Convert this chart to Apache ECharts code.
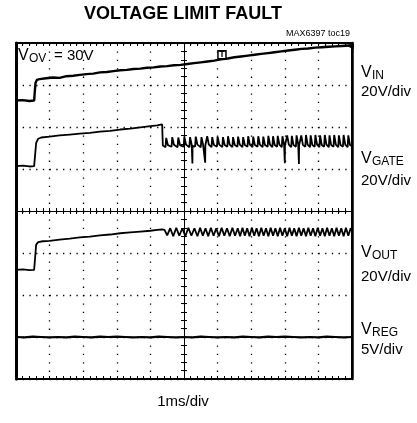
<!DOCTYPE html>
<html>
<head>
<meta charset="utf-8">
<script src="https://cdn.jsdelivr.net/npm/echarts@6/dist/echarts.min.js"></script>
<style>
html,body{margin:0;padding:0;background:#fff;}
#chart{width:417px;height:423px;}
</style>
</head>
<body>
<div id="chart"></div>
<script>
// Time axis: ms relative to screen centre (1 ms/div); vertical: divisions from screen centre
const timeTicks = [-5,-4,-3,-2,-1,0,1,2,3,4,5];
const divTicks = [-4,-3,-2,-1,0,1,2,3,4];

const vinTrace = [[-5.00,2.63],[-4.80,2.64],[-4.60,2.62],[-4.46,2.63],[-4.44,2.85],[-4.42,3.05],[-4.38,3.12],[-4.30,3.14],[-4.10,3.16],[-3.90,3.18],[-3.70,3.17],[-3.50,3.21],[-3.30,3.22],[-3.10,3.24],[-2.90,3.26],[-2.70,3.27],[-2.50,3.30],[-2.30,3.31],[-2.10,3.33],[-1.90,3.35],[-1.70,3.36],[-1.50,3.38],[-1.30,3.39],[-1.10,3.41],[-0.90,3.42],[-0.70,3.44],[-0.50,3.45],[-0.30,3.47],[-0.10,3.48],[0.10,3.50],[0.30,3.52],[0.50,3.54],[0.70,3.56],[0.90,3.58],[1.10,3.61],[1.30,3.63],[1.50,3.66],[1.70,3.68],[1.90,3.70],[2.10,3.72],[2.30,3.74],[2.50,3.76],[2.70,3.78],[2.90,3.80],[3.10,3.82],[3.30,3.84],[3.50,3.86],[3.70,3.87],[3.90,3.89],[4.10,3.90],[4.30,3.91],[4.50,3.92],[4.70,3.93],[4.90,3.94],[5.00,3.94]];

const gateTrace = [[-5.00,1.07],[-4.80,1.08],[-4.60,1.06],[-4.46,1.07],[-4.43,1.35],[-4.40,1.62],[-4.34,1.72],[-4.25,1.75],[-4.00,1.77],[-3.70,1.80],[-3.40,1.82],[-3.10,1.84],[-2.80,1.86],[-2.50,1.89],[-2.20,1.91],[-1.90,1.94],[-1.60,1.96],[-1.30,1.99],[-1.00,2.02],[-0.80,2.04],[-0.65,2.06],[-0.63,1.56],
[-0.55,1.52],[-0.53,1.74],[-0.48,1.57],
[-0.37,1.53],[-0.35,1.76],[-0.30,1.58],
[-0.19,1.52],[-0.17,1.75],[-0.12,1.57],
[-0.01,1.53],[0.01,1.77],[0.06,1.58],
[0.16,1.52],[0.18,1.76],[0.23,1.57],
[0.245,1.56],[0.25,1.13],[0.255,1.55],
[0.33,1.53],[0.35,1.77],[0.40,1.58],
[0.50,1.52],[0.52,1.76],[0.57,1.57],
[0.625,1.56],[0.63,1.15],[0.635,1.56],
[0.67,1.53],[0.69,1.78],[0.74,1.58],
[0.82,1.52],[0.84,1.76],[0.89,1.57],
[0.98,1.53],[1.00,1.77],[1.05,1.58],
[1.14,1.52],[1.16,1.76],[1.21,1.57],
[1.29,1.53],[1.31,1.78],[1.36,1.58],
[1.44,1.52],[1.46,1.76],[1.51,1.57],
[1.59,1.53],[1.61,1.77],[1.66,1.58],
[1.74,1.52],[1.76,1.76],[1.81,1.57],
[1.89,1.53],[1.91,1.78],[1.96,1.58],
[2.04,1.52],[2.06,1.77],[2.11,1.57],
[2.19,1.53],[2.21,1.78],[2.26,1.58],
[2.34,1.52],[2.36,1.77],[2.41,1.57],
[2.49,1.53],[2.51,1.79],[2.56,1.58],
[2.63,1.52],[2.65,1.78],[2.70,1.57],
[2.77,1.53],[2.79,1.79],[2.84,1.58],
[2.91,1.52],[2.93,1.78],[2.98,1.57],
[2.995,1.56],[3.00,1.14],[3.005,1.56],
[3.05,1.53],[3.07,1.80],[3.12,1.58],
[3.19,1.52],[3.21,1.79],[3.26,1.57],
[3.33,1.53],[3.35,1.80],[3.40,1.58],
[3.415,1.57],[3.42,1.12],[3.425,1.56],
[3.47,1.52],[3.49,1.80],[3.54,1.57],
[3.61,1.53],[3.63,1.81],[3.68,1.58],
[3.75,1.52],[3.77,1.80],[3.82,1.57],
[3.89,1.53],[3.91,1.81],[3.96,1.58],
[4.03,1.52],[4.05,1.80],[4.10,1.57],
[4.17,1.53],[4.19,1.81],[4.24,1.58],
[4.31,1.52],[4.33,1.80],[4.38,1.57],
[4.45,1.53],[4.47,1.81],[4.52,1.58],
[4.59,1.52],[4.61,1.80],[4.66,1.57],
[4.73,1.53],[4.75,1.81],[4.80,1.58],
[4.87,1.52],[4.89,1.80],[4.94,1.57],[5.00,1.54]];

const outTrace = [[-5.00,-1.40],[-4.80,-1.39],[-4.60,-1.41],[-4.46,-1.40],[-4.43,-1.10],[-4.40,-0.80],[-4.34,-0.74],[-4.20,-0.72],[-4.00,-0.71],[-3.70,-0.68],[-3.40,-0.66],[-3.10,-0.63],[-2.80,-0.61],[-2.50,-0.58],[-2.20,-0.56],[-1.90,-0.53],[-1.60,-0.51],[-1.30,-0.49],[-1.00,-0.47],[-0.80,-0.45],[-0.65,-0.44],
[-0.58,-0.45],[-0.50,-0.58],[-0.41,-0.41],[-0.32,-0.60],[-0.23,-0.40],[-0.14,-0.59],[-0.05,-0.41],[0.04,-0.60],[0.13,-0.40],[0.22,-0.59],[0.31,-0.41],[0.40,-0.60],[0.48,-0.40],[0.56,-0.59],[0.64,-0.41],[0.72,-0.60],[0.80,-0.40],[0.88,-0.59],[0.96,-0.41],[1.04,-0.60],[1.12,-0.40],[1.20,-0.59],[1.28,-0.41],[1.36,-0.60],[1.44,-0.40],[1.52,-0.59],[1.60,-0.41],[1.67,-0.60],[1.74,-0.40],[1.81,-0.59],[1.88,-0.41],[1.95,-0.60],[2.02,-0.40],[2.09,-0.59],[2.16,-0.41],[2.23,-0.60],[2.30,-0.40],[2.37,-0.59],[2.44,-0.41],[2.51,-0.60],[2.58,-0.40],[2.65,-0.59],[2.72,-0.41],[2.79,-0.60],[2.86,-0.40],[2.93,-0.59],[3.00,-0.41],[3.07,-0.60],[3.14,-0.40],[3.21,-0.59],[3.28,-0.41],[3.35,-0.60],[3.42,-0.40],[3.49,-0.59],[3.56,-0.41],[3.63,-0.60],[3.70,-0.40],[3.77,-0.59],[3.84,-0.41],[3.91,-0.60],[3.98,-0.40],[4.05,-0.59],[4.12,-0.41],[4.19,-0.60],[4.26,-0.40],[4.33,-0.59],[4.40,-0.41],[4.47,-0.60],[4.54,-0.40],[4.61,-0.59],[4.68,-0.41],[4.75,-0.60],[4.82,-0.40],[4.89,-0.59],[4.96,-0.41],[5.00,-0.48]];

const regTrace = [[-5.00,-3.00],[-4.75,-3.01],[-4.50,-2.99],[-4.25,-3.00],[-4.00,-3.01],[-3.75,-3.00],[-3.50,-3.01],[-3.25,-2.99],[-3.00,-3.00],[-2.75,-3.01],[-2.50,-2.99],[-2.25,-3.00],[-2.00,-2.99],[-1.75,-3.00],[-1.50,-3.01],[-1.25,-3.00],[-1.00,-3.01],[-0.75,-2.99],[-0.50,-3.00],[-0.25,-3.01],[0.00,-3.00],[0.25,-3.01],[0.50,-2.99],[0.75,-3.00],[1.00,-3.01],[1.25,-3.00],[1.50,-3.01],[1.75,-2.99],[2.00,-3.00],[2.25,-3.01],[2.50,-2.99],[2.75,-3.00],[3.00,-2.99],[3.25,-3.00],[3.50,-3.01],[3.75,-3.00],[4.00,-3.01],[4.25,-2.99],[4.50,-3.00],[4.75,-3.01],[5.00,-3.00]];

const triggerPoint = [1.13, 3.72];
const levelPoint = [4.95, 3.93];

const FONT = "'Liberation Sans', Arial, sans-serif";
const BLACK = '#000';

const chart = echarts.init(document.getElementById('chart'), null, {renderer:'canvas'});

function traceSeries(data, width, extra) {
  return Object.assign({
    type:'line', data:data, showSymbol:false, symbol:'none', silent:true,
    xAxisIndex:0, yAxisIndex:0, animation:false,
    lineStyle:{color:BLACK, width:width}
  }, extra || {});
}

const hidden = {show:false};
function xAx(extra) {
  return Object.assign({type:'value', min:timeTicks[0], max:timeTicks[timeTicks.length-1], interval:1,
    axisLabel:hidden, splitLine:hidden}, extra);
}
function yAx(extra) {
  return Object.assign({type:'value', min:divTicks[0], max:divTicks[divTicks.length-1], interval:1,
    axisLabel:hidden, splitLine:hidden}, extra);
}
const tickStyle = {color:BLACK, width:1};
const HALF = 168; // half of plot box (px)

const option = {
  backgroundColor:'#fff',
  animation:false,
  grid:{left:16, right:65, top:43, bottom:44, show:true, borderColor:BLACK, borderWidth:2, backgroundColor:'transparent'},
  xAxis:[
    // dotted verticals + centre horizontal line with upward ticks
    xAx({position:'bottom', offset:-HALF, axisLine:{show:true, onZero:false, lineStyle:{color:BLACK,width:1}},
         axisTick:{show:true, inside:true, length:3, lineStyle:tickStyle},
         minorTick:{show:true, splitNumber:5, length:3, lineStyle:tickStyle},
         splitLine:{show:true, lineStyle:{color:BLACK, width:1.3, type:[1.3, 7.1]}}}),
    // centre horizontal line downward ticks
    xAx({position:'bottom', offset:-HALF, axisLine:{show:false, onZero:false},
         axisTick:{show:true, inside:false, length:3, lineStyle:tickStyle},
         minorTick:{show:true, splitNumber:5, length:3, lineStyle:tickStyle}}),
    xAx({position:'bottom', axisLine:{show:false, onZero:false},
         axisTick:{show:true, inside:true, length:3, lineStyle:tickStyle},
         minorTick:{show:true, splitNumber:5, length:3, lineStyle:tickStyle}}),
    xAx({position:'top', axisLine:{show:false, onZero:false},
         axisTick:{show:true, inside:true, length:3, lineStyle:tickStyle},
         minorTick:{show:true, splitNumber:5, length:3, lineStyle:tickStyle}})
  ],
  yAxis:[
    yAx({position:'left', offset:-HALF, axisLine:{show:true, onZero:false, lineStyle:{color:BLACK,width:1}},
         axisTick:{show:true, inside:true, length:3, lineStyle:tickStyle},
         minorTick:{show:true, splitNumber:5, length:3, lineStyle:tickStyle},
         splitLine:{show:true, lineStyle:{color:BLACK, width:1.3, type:[1.3, 5.42]}}}),
    yAx({position:'left', offset:-HALF, axisLine:{show:false, onZero:false},
         axisTick:{show:true, inside:false, length:3, lineStyle:tickStyle},
         minorTick:{show:true, splitNumber:5, length:3, lineStyle:tickStyle}}),
    yAx({position:'left', axisLine:{show:true, onZero:false, lineStyle:{color:BLACK,width:3}},
         axisTick:hidden}),
    yAx({position:'right', axisLine:{show:true, onZero:false, lineStyle:{color:BLACK,width:2.5}},
         axisTick:hidden})
  ],
  series:[
    traceSeries(vinTrace, 2.4, {
      markPoint:{silent:true, animation:false, data:[
        {coord:triggerPoint, symbol:'rect', symbolSize:[8,8], itemStyle:{color:'#fff', borderColor:BLACK, borderWidth:1.5},
         label:{show:true, formatter:'T', color:BLACK, fontSize:9, fontWeight:'bold', fontFamily:FONT, position:'inside'}},
        {coord:levelPoint, symbol:'triangle', symbolSize:[7,7], symbolRotate:90, itemStyle:{color:BLACK}, label:{show:false}}
      ]}
    }),
    traceSeries(gateTrace, 1.8),
    traceSeries(outTrace, 1.8),
    traceSeries(regTrace, 2.2)
  ],
  graphic:[
    {type:'text', x:183, y:14, style:{text:'VOLTAGE LIMIT FAULT', font:'bold 18px '+FONT, fill:BLACK, textAlign:'center', textVerticalAlign:'middle'}},
    {type:'text', x:350, y:34, style:{text:'MAX6397 toc19', font:'9px '+FONT, fill:BLACK, textAlign:'right', textVerticalAlign:'middle'}},
    {type:'text', x:18, y:56, style:{text:'V', font:'16px '+FONT, fill:BLACK, textAlign:'left', textVerticalAlign:'middle'}},
    {type:'text', x:29, y:59, style:{text:'OV', font:'12px '+FONT, fill:BLACK, textAlign:'left', textVerticalAlign:'middle'}},
    {type:'text', x:54, y:56, style:{text:'= 30V', font:'15px '+FONT, fill:BLACK, textAlign:'left', textVerticalAlign:'middle'}},

    {type:'text', x:361, y:73, style:{text:'V', font:'16px '+FONT, fill:BLACK, textAlign:'left', textVerticalAlign:'middle'}},
    {type:'text', x:372, y:76, style:{text:'IN', font:'12px '+FONT, fill:BLACK, textAlign:'left', textVerticalAlign:'middle'}},
    {type:'text', x:361, y:92, style:{text:'20V/div', font:'15px '+FONT, fill:BLACK, textAlign:'left', textVerticalAlign:'middle'}},

    {type:'text', x:361, y:159, style:{text:'V', font:'16px '+FONT, fill:BLACK, textAlign:'left', textVerticalAlign:'middle'}},
    {type:'text', x:372, y:162, style:{text:'GATE', font:'12px '+FONT, fill:BLACK, textAlign:'left', textVerticalAlign:'middle'}},
    {type:'text', x:361, y:181, style:{text:'20V/div', font:'15px '+FONT, fill:BLACK, textAlign:'left', textVerticalAlign:'middle'}},

    {type:'text', x:361, y:253, style:{text:'V', font:'16px '+FONT, fill:BLACK, textAlign:'left', textVerticalAlign:'middle'}},
    {type:'text', x:372, y:256, style:{text:'OUT', font:'12px '+FONT, fill:BLACK, textAlign:'left', textVerticalAlign:'middle'}},
    {type:'text', x:361, y:277, style:{text:'20V/div', font:'15px '+FONT, fill:BLACK, textAlign:'left', textVerticalAlign:'middle'}},

    {type:'text', x:361, y:330, style:{text:'V', font:'16px '+FONT, fill:BLACK, textAlign:'left', textVerticalAlign:'middle'}},
    {type:'text', x:372, y:333, style:{text:'REG', font:'12px '+FONT, fill:BLACK, textAlign:'left', textVerticalAlign:'middle'}},
    {type:'text', x:361, y:350, style:{text:'5V/div', font:'15px '+FONT, fill:BLACK, textAlign:'left', textVerticalAlign:'middle'}},

    {type:'text', x:183, y:402, style:{text:'1ms/div', font:'15px '+FONT, fill:BLACK, textAlign:'center', textVerticalAlign:'middle'}}
  ]
};
chart.setOption(option);
</script>
</body>
</html>
